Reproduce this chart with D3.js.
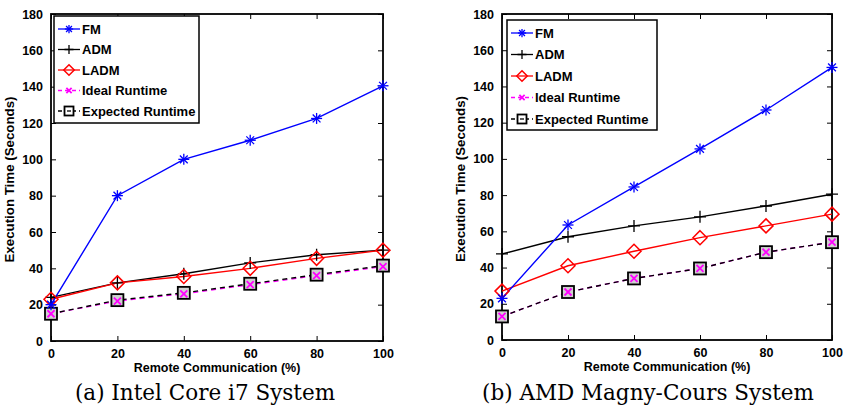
<!DOCTYPE html>
<html>
<head>
<meta charset="utf-8">
<script src="https://cdn.jsdelivr.net/npm/d3@7"></script>
<style>
  body { margin: 0; background: #fff; }
  text { font-family: "Liberation Sans", Arial, sans-serif; }
</style>
</head>
<body>
<svg class="plot" width="843" height="407"></svg>
<script>
// shared axis values
var xValues = [0, 20, 40, 60, 80, 100];
var yTicks = [0, 20, 40, 60, 80, 100, 120, 140, 160, 180];
var seriesNames = ["FM", "ADM", "LADM", "Ideal Runtime", "Expected Runtime"];

// (a) Intel Core i7
var intelFM = [20, 80, 100, 110.5, 122.5, 140.5];
var intelADM = [24, 32, 37, 43, 47.5, 50];
var intelLADM = [23, 32, 35.5, 40, 45.5, 50];
var intelIdeal = [15, 22, 26, 31, 36, 41];
var intelExpected = [15, 22.5, 26.5, 31.5, 36.5, 41.5];

// (b) AMD Magny-Cours
var amdFM = [23, 63.5, 84.5, 105.5, 127, 150.5];
var amdADM = [47.5, 57, 63, 68, 74, 80.5];
var amdLADM = [27, 41, 49, 56.5, 63, 69.5];
var amdIdeal = [13, 26.5, 34, 39.5, 48.5, 54];
var amdExpected = [13, 26.5, 34, 39.5, 48.5, 54];

var svg = d3.select(".plot");

var styles = {
  "FM": {color: "#0000ff", dash: null, marker: "star"},
  "ADM": {color: "#000000", dash: null, marker: "plus"},
  "LADM": {color: "#ff0000", dash: null, marker: "diamond"},
  "Ideal Runtime": {color: "#ff00ff", dash: "5,4", marker: "x"},
  "Expected Runtime": {color: "#000000", dash: "5,4", marker: "square"}
};

function drawMarker(g, type, color, cx, cy, sc) {
  sc = sc || 1;
  if (type == "star") {
    [0, 45, 90, 135].forEach(function(a) {
      var r = a * Math.PI / 180, s = 5.5 * sc;
      g.append("line")
        .attr("x1", cx - s * Math.cos(r)).attr("y1", cy - s * Math.sin(r))
        .attr("x2", cx + s * Math.cos(r)).attr("y2", cy + s * Math.sin(r))
        .attr("stroke", color).attr("stroke-width", 1.3);
    });
  } else if (type == "plus") {
    var s = 6 * sc;
    g.append("path")
      .attr("d", "M" + (cx - s) + "," + cy + "H" + (cx + s) + "M" + cx + "," + (cy - s) + "V" + (cy + s))
      .attr("stroke", color).attr("stroke-width", 1.3).attr("fill", "none");
  } else if (type == "diamond") {
    var s = 7 * sc;
    g.append("path")
      .attr("d", "M" + cx + "," + (cy - s) + "L" + (cx + s) + "," + cy + "L" + cx + "," + (cy + s) + "L" + (cx - s) + "," + cy + "Z")
      .attr("stroke", color).attr("stroke-width", 1.5).attr("fill", "none");
  } else if (type == "x") {
    var s = 3.5 * sc;
    g.append("path")
      .attr("d", "M" + (cx - s) + "," + (cy - s) + "L" + (cx + s) + "," + (cy + s) + "M" + (cx + s) + "," + (cy - s) + "L" + (cx - s) + "," + (cy + s))
      .attr("stroke", color).attr("stroke-width", 1.8).attr("fill", "none");
  } else if (type == "square") {
    var s = 6 * sc;
    g.append("rect")
      .attr("x", cx - s).attr("y", cy - s).attr("width", 2 * s).attr("height", 2 * s)
      .attr("stroke", color).attr("stroke-width", 1.8).attr("fill", sc < 1 ? "#fff" : "#d0d0d0");
    if (sc < 1) {
      g.append("line").attr("x1", cx - 2).attr("x2", cx + 2).attr("y1", cy).attr("y2", cy)
        .attr("stroke", color).attr("stroke-width", 1.3);
    }
  }
}

function drawPanel(p) {
  var x = d3.scaleLinear().domain([0, 100]).range([p.left, p.right]);
  var y = d3.scaleLinear().domain([0, 180]).range([p.bottom, p.top]);
  var g = svg.append("g");

  // inward ticks on all four sides
  g.append("g")
      .attr("transform", "translate(0," + p.bottom + ")")
      .call(d3.axisBottom(x).tickValues(xValues).tickSize(-5).tickPadding(8))
      .call(function(a) { a.select(".domain").remove(); });
  g.append("g")
      .attr("transform", "translate(0," + p.top + ")")
      .call(d3.axisTop(x).tickValues(xValues).tickSize(-5).tickFormat(""))
      .call(function(a) { a.select(".domain").remove(); });
  g.append("g")
      .attr("transform", "translate(" + p.left + ",0)")
      .call(d3.axisLeft(y).tickValues(yTicks).tickSize(-5).tickPadding(8))
      .call(function(a) { a.select(".domain").remove(); });
  g.append("g")
      .attr("transform", "translate(" + p.right + ",0)")
      .call(d3.axisRight(y).tickValues(yTicks).tickSize(-5).tickFormat(""))
      .call(function(a) { a.select(".domain").remove(); });

  g.selectAll(".tick text")
      .style("font-size", "12.5px")
      .style("font-weight", "bold")
      .attr("fill", "#000");
  g.selectAll(".tick line").attr("stroke", "#000").attr("stroke-width", 1);

  g.append("rect")
      .attr("x", p.left).attr("y", p.top)
      .attr("width", p.right - p.left).attr("height", p.bottom - p.top)
      .attr("fill", "none").attr("stroke", "#000").attr("stroke-width", 1.8);

  // axis titles
  g.append("text")
      .attr("x", (p.left + p.right) / 2)
      .attr("y", p.bottom + 31)
      .style("font-size", "12.5px").style("font-weight", "bold")
      .style("text-anchor", "middle")
      .text("Remote Communication (%)");
  g.append("text")
      .attr("transform", "translate(" + (p.left - 37) + "," + ((p.top + p.bottom) / 2 + 2) + ")rotate(-90)")
      .style("font-size", "13.3px").style("font-weight", "bold")
      .style("text-anchor", "middle")
      .text("Execution Time (Seconds)");

  // series, drawn back to front
  var lineOrder = [3, 4, 1, 2, 0];
  var markerOrder = [4, 3, 1, 2, 0];
  var line = d3.line()
      .x(function(d, i) { return x(xValues[i]); })
      .y(function(d) { return y(d); });
  lineOrder.forEach(function(k) {
    var st = styles[seriesNames[k]];
    g.append("path")
        .attr("d", line(p.series[k]))
        .attr("fill", "none")
        .attr("stroke", st.color)
        .attr("stroke-width", 1.4)
        .attr("stroke-dasharray", st.dash);
  });
  markerOrder.forEach(function(k) {
    var st = styles[seriesNames[k]];
    p.series[k].forEach(function(v, i) {
      drawMarker(g, st.marker, st.color, x(xValues[i]), y(v));
    });
  });

  // legend
  var lg = g.append("g");
  lg.append("rect")
      .attr("x", p.legend.x).attr("y", p.legend.y)
      .attr("width", p.legend.w).attr("height", p.legend.h)
      .attr("fill", "#fff").attr("stroke", "#000").attr("stroke-width", 1.5);
  seriesNames.forEach(function(name, k) {
    var st = styles[name];
    var cy = p.legend.y + p.legend.first + k * p.legend.step;
    var x0 = p.legend.x + 4, x1 = x0 + 22;
    lg.append("line")
        .attr("x1", x0).attr("x2", x1).attr("y1", cy).attr("y2", cy)
        .attr("stroke", st.color).attr("stroke-width", 1.3)
        .attr("stroke-dasharray", st.dash ? "4,3" : null);
    drawMarker(lg, st.marker, st.color, (x0 + x1) / 2, cy, 0.75);
    lg.append("text")
        .attr("x", x1 + 2).attr("y", cy + 4.5)
        .style("font-size", "13px").style("font-weight", "bold")
        .text(name);
  });

  // caption
  svg.append("text")
      .attr("x", p.captionX)
      .attr("y", 400)
      .style("font-family", "'DejaVu Serif', 'Liberation Serif', serif")
      .style("font-size", "21.5px")
      .style("text-anchor", "middle")
      .text(p.caption);
}

drawPanel({
  left: 51, right: 383, top: 14, bottom: 341,
  series: [intelFM, intelADM, intelLADM, intelIdeal, intelExpected],
  legend: {x: 54, y: 16, w: 145, h: 107, first: 13, step: 20.5},
  caption: "(a) Intel Core i7 System", captionX: 205
});

drawPanel({
  left: 502, right: 832, top: 14, bottom: 340,
  series: [amdFM, amdADM, amdLADM, amdIdeal, amdExpected],
  legend: {x: 507, y: 20, w: 150, h: 110, first: 13, step: 21.5},
  caption: "(b) AMD Magny-Cours System", captionX: 648
});
</script>
</body>
</html>
